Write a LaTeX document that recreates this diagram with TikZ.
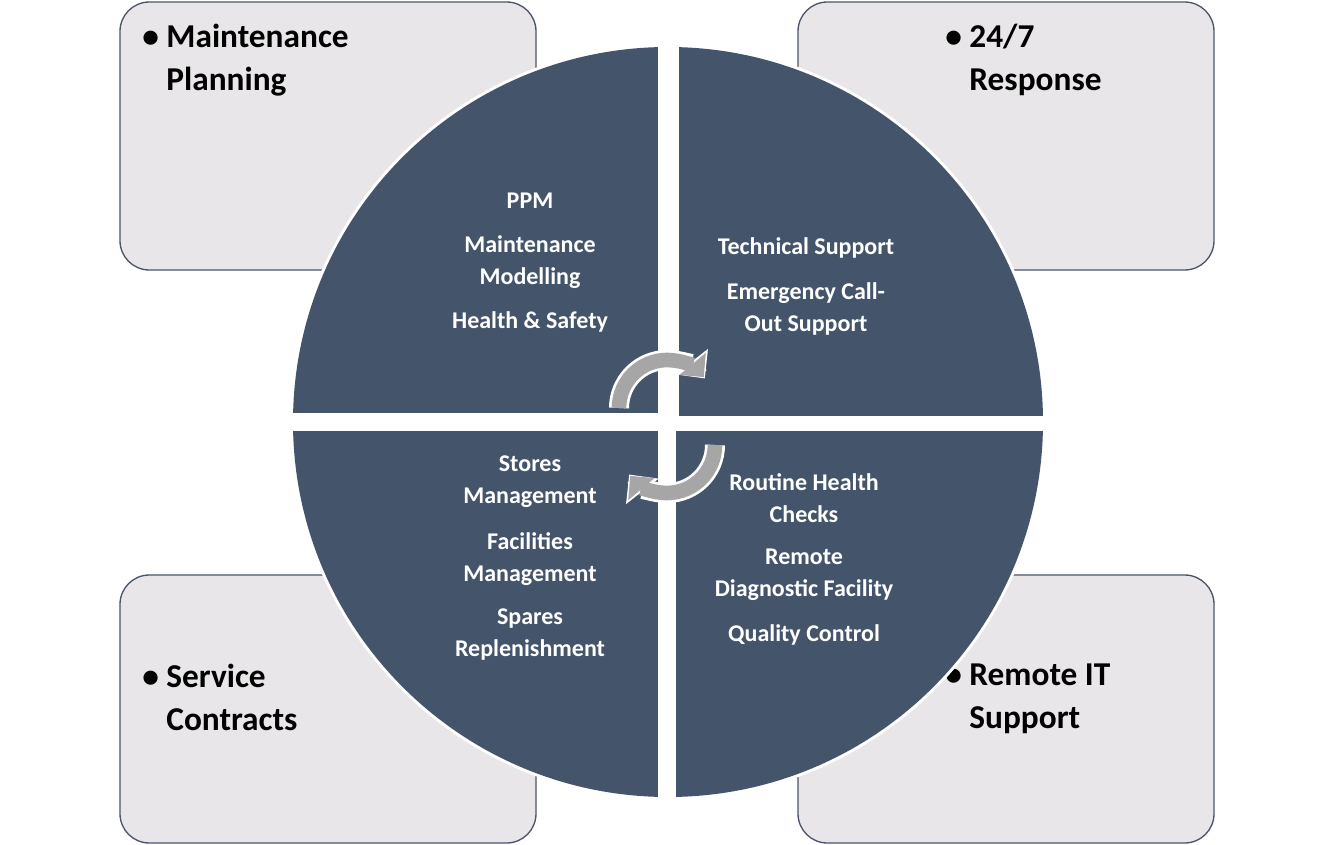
\documentclass[tikz,border=0pt]{standalone}
\usepackage{fontspec}
\setmainfont{Carlito}
\usetikzlibrary{arrows.meta}
\definecolor{qd}{HTML}{44546A}
\definecolor{bx}{HTML}{E8E6E8}
\definecolor{bd}{HTML}{4A5568}
\definecolor{ar}{HTML}{A6A6A6}
\begin{document}
\begin{tikzpicture}[x=0.75pt,y=-0.75pt,
 box/.style={draw=bd,line width=1pt,fill=bx,rounded corners=22pt},
 qt/.style={text=white,font=\bfseries\fontsize{18}{24}\selectfont,align=center},
 bt/.style={text=black,font=\bfseries\fontsize{25}{32}\selectfont,align=left,anchor=north west,inner sep=0pt},
 carrow/.style={draw=white,line width=15pt},
 cfill/.style={draw=ar,line width=11pt}]
\useasboundingbox (0,0) rectangle (1334,845);
\draw[box] (120,2) rectangle (536,270);
\draw[box] (798,2) rectangle (1214,270);
\draw[box] (120,575) rectangle (536,843);
\draw[box] (798,575) rectangle (1214,843);
\node[bt] (b1) at (142,24) {\textbullet\ Maintenance\\\hphantom{\textbullet\ }Planning};
\node[bt] (b2) at (945,24) {\textbullet\ 24/7\\\hphantom{\textbullet\ }Response};
\node[bt] (b3) at (142,664) {\textbullet\ Service\\\hphantom{\textbullet\ }Contracts};
\node[bt] (b4) at (945,664) {\textbullet\ Remote IT\\\hphantom{\textbullet\ }Support};
\fill[white] (668,422) circle (378);
\begin{scope}
\clip (668,422) circle (375);
\fill[qd] (280,30) rectangle (658,413);
\fill[qd] (679,30) rectangle (1060,416);
\fill[qd] (280,431) rectangle (658,810);
\fill[qd] (676,431) rectangle (1060,810);
\end{scope}
\node[qt] (p1) at (530,201) {PPM};
\node[qt] (p2) at (530,262) {Maintenance\\Modelling};
\node[qt] (p3) at (530,322) {Health \& Safety};
\node[qt] (p4) at (806,248) {Technical Support};
\node[qt] (p5) at (806,309) {Emergency Call-\\Out Support};
\node[qt] (p6) at (530,482) {Stores\\Management};
\node[qt] (p7) at (530,559) {Facilities\\Management};
\node[qt] (p8) at (530,635) {Spares\\Replenishment};
\node[qt] (p9) at (804,498) {Routine Health\\Checks};
\node[qt] (p10) at (804,575) {Remote\\Diagnostic Facility};
\node[qt] (p11) at (804,635) {Quality Control};
\coordinate (c1) at (667,408);
\coordinate (c2) at (667,445);
\draw[carrow,-{Triangle[length=16pt,width=30pt]}] ([shift={(180:48)}]c1) arc (180:322:48);
\draw[cfill,-{Triangle[length=13pt,width=25pt]}] ([shift={(180:48)}]c1) arc (180:320:48);
\draw[carrow,-{Triangle[length=16pt,width=30pt]}] ([shift={(0:48)}]c2) arc (0:142:48);
\draw[cfill,-{Triangle[length=13pt,width=25pt]}] ([shift={(0:48)}]c2) arc (0:140:48);
\end{tikzpicture}
\end{document}
